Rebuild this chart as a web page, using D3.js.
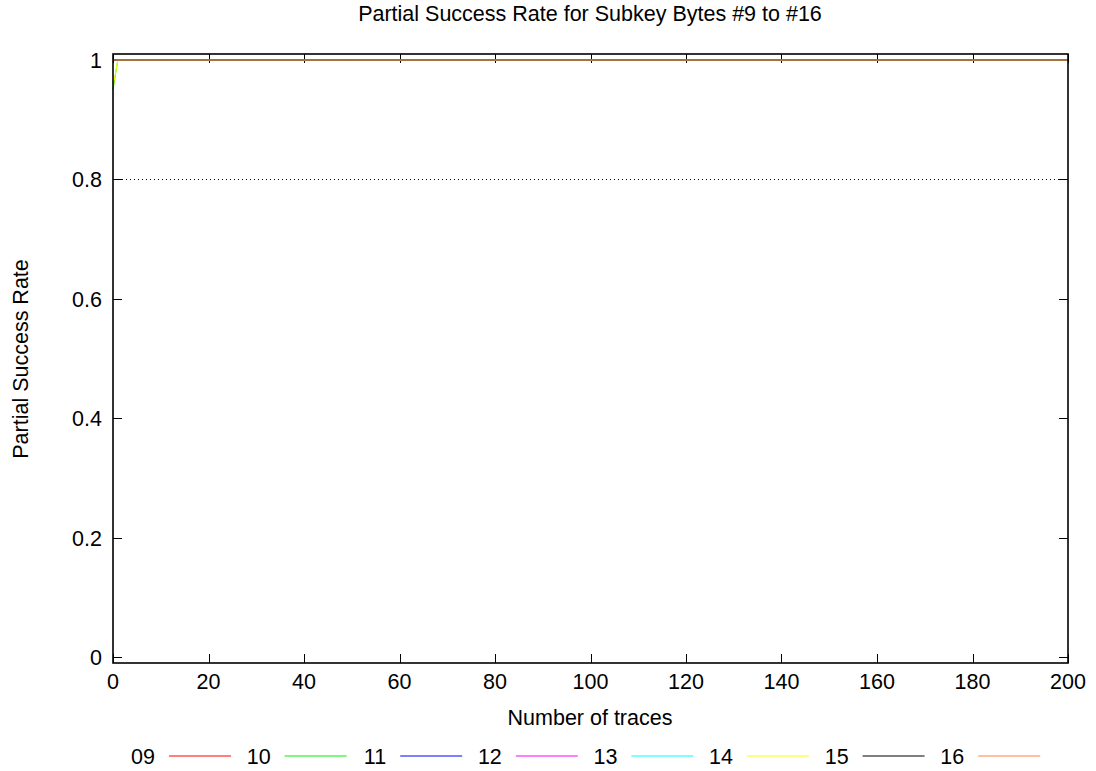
<!DOCTYPE html>
<html>
<head>
<meta charset="utf-8">
<script src="https://cdn.jsdelivr.net/npm/d3@7"></script>
<style>
body { margin: 0; background: #fff; }
text { font-family: "Liberation Sans", Arial, sans-serif; fill: #000; }
</style>
</head>
<body>
<svg id="chart" width="1096" height="771"></svg>
<script>
const title = "Partial Success Rate for Subkey Bytes #9 to #16";
const xLabel = "Number of traces";
const yLabel = "Partial Success Rate";
const seriesNames = ["09", "10", "11", "12", "13", "14", "15", "16"];
const seriesColors = ["#ff0000", "#00ee00", "#0000ff", "#ff00ff", "#00ffff", "#ffff00", "#000000", "#ff7f40"];
const traces = [0, 1, 2, 5, 10, 20, 50, 100, 150, 200];
const s09 = [1, 1, 1, 1, 1, 1, 1, 1, 1, 1];
const s10 = [0.95, 1, 1, 1, 1, 1, 1, 1, 1, 1];
const s11 = [1, 1, 1, 1, 1, 1, 1, 1, 1, 1];
const s12 = [1, 1, 1, 1, 1, 1, 1, 1, 1, 1];
const s13 = [1, 1, 1, 1, 1, 1, 1, 1, 1, 1];
const s14 = [0.955, 1, 1, 1, 1, 1, 1, 1, 1, 1];
const s15 = [1, 1, 1, 1, 1, 1, 1, 1, 1, 1];
const s16 = [1, 1, 1, 1, 1, 1, 1, 1, 1, 1];
const seriesValues = [s09, s10, s11, s12, s13, s14, s15, s16];
const xTicks = [0, 20, 40, 60, 80, 100, 120, 140, 160, 180, 200];
const yTicks = [0, 0.2, 0.4, 0.6, 0.8, 1];
const refLine = 0.8;

const svg = d3.select("#chart");
const L = 113, R = 1068, T = 54, B = 663;
const x = d3.scaleLinear().domain([0, 200]).range([L, R]);
const y = d3.scaleLinear().domain([-0.01, 1.01]).range([B, T]);
const tickLen = 9;
const fs = 21.5;

// reference dotted line
svg.append("line")
  .attr("x1", x(0) + tickLen).attr("x2", x(200) - tickLen)
  .attr("y1", Math.round(y(refLine)) + 0.5).attr("y2", Math.round(y(refLine)) + 0.5)
  .attr("stroke", "#000").attr("stroke-width", 1).attr("stroke-dasharray", "1,3");

// ticks (mirrored, inward)
const g = svg.append("g");
xTicks.forEach(t => {
  const px = Math.round(x(t)) + 0.5;
  g.append("line").attr("x1", px).attr("x2", px).attr("y1", B).attr("y2", B - tickLen).attr("stroke", "#000");
  g.append("line").attr("x1", px).attr("x2", px).attr("y1", T).attr("y2", T + tickLen).attr("stroke", "#000");
  g.append("text").attr("x", x(t)).attr("y", 689).attr("text-anchor", "middle").attr("font-size", fs).text(d3.format("d")(t));
});
yTicks.forEach(t => {
  const py = Math.round(y(t)) + 0.5;
  g.append("line").attr("x1", L).attr("x2", L + tickLen).attr("y1", py).attr("y2", py).attr("stroke", "#000");
  g.append("line").attr("x1", R).attr("x2", R - tickLen).attr("y1", py).attr("y2", py).attr("stroke", "#000");
  g.append("text").attr("x", 102).attr("y", y(t) + 8).attr("text-anchor", "end").attr("font-size", fs).text(d3.format("~g")(t));
});

// series lines
const line = d3.line().x(d => x(d[0])).y(d => y(d[1]));
seriesValues.forEach((vals, i) => {
  svg.append("path")
    .datum(traces.map((t, j) => [t, vals[j]]))
    .attr("d", line)
    .attr("fill", "none")
    .attr("stroke", seriesColors[i])
    .attr("stroke-width", 1);
});

// border
svg.append("rect").attr("x", L).attr("y", T).attr("width", R - L).attr("height", B - T)
  .attr("fill", "none").attr("stroke", "#000").attr("stroke-width", 1.6);

// titles
svg.append("text").attr("x", 590).attr("y", 21).attr("text-anchor", "middle").attr("font-size", fs).text(title);
svg.append("text").attr("x", 590).attr("y", 725).attr("text-anchor", "middle").attr("font-size", fs).text(xLabel);
svg.append("text").attr("transform", "translate(28,359) rotate(-90)").attr("text-anchor", "middle").attr("font-size", fs).text(yLabel);

// legend
const legX0 = 169, legStep = 115.6, legY = 756;
seriesNames.forEach((n, i) => {
  const lx = legX0 + i * legStep;
  svg.append("text").attr("x", lx - 14).attr("y", legY + 8).attr("text-anchor", "end").attr("font-size", fs).text(n);
  svg.append("line").attr("x1", lx).attr("x2", lx + 62).attr("y1", legY).attr("y2", legY)
    .attr("stroke", seriesColors[i]).attr("stroke-width", 1);
});
</script>
</body>
</html>
